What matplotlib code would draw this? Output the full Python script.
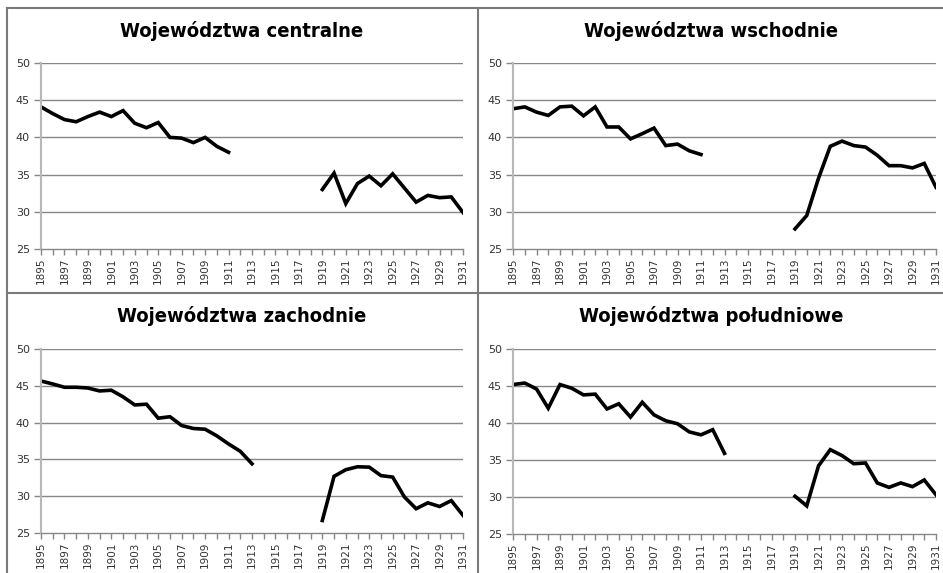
import numpy as np
import matplotlib
matplotlib.use("Agg")
import matplotlib.pyplot as plt
from matplotlib.lines import Line2D

nan = np.nan
years = list(range(1895, 1932))

titles = ["Województwa centralne", "Województwa wschodnie",
          "Województwa zachodnie", "Województwa południowe"]

central = [44.1, 43.2, 42.4, 42.1, 42.8, 43.4, 42.8, 43.6, 41.9, 41.3, 42.0, 40.0, 39.9, 39.3, 40.0, 38.8, 38.0,
           nan, nan, nan, nan, nan, nan, nan,
           33.0, 35.2, 31.1, 33.8, 34.8, 33.5, 35.1, 33.2, 31.3, 32.2, 31.9, 32.0, 29.9]
east = [43.85, 44.1, 43.4, 42.95, 44.1, 44.2, 42.9, 44.1, 41.4, 41.4, 39.8, 40.5, 41.25, 38.9, 39.1, 38.2, 37.7,
        nan, nan, nan, nan, nan, nan, nan,
        27.7, 29.5, 34.5, 38.8, 39.5, 38.9, 38.7, 37.6, 36.2, 36.2, 35.9, 36.5, 33.3]
west = [45.65, 45.25, 44.8, 44.8, 44.7, 44.3, 44.4, 43.5, 42.4, 42.5, 40.6, 40.8, 39.6, 39.2, 39.1, 38.2, 37.1, 36.1, 34.4,
        nan, nan, nan, nan, nan,
        26.7, 32.7, 33.6, 34.0, 33.95, 32.8, 32.6, 29.9, 28.3, 29.1, 28.6, 29.4, 27.4]
south = [45.2, 45.4, 44.6, 42.0, 45.2, 44.7, 43.8, 43.9, 41.9, 42.6, 40.8, 42.8, 41.1, 40.3, 39.9, 38.8, 38.4, 39.1, 35.9,
         nan, nan, nan, nan, nan,
         30.1, 28.8, 34.2, 36.4, 35.6, 34.5, 34.6, 31.9, 31.3, 31.9, 31.4, 32.3, 30.3]

series = [central, east, west, south]
yticks = [25, 30, 35, 40, 45, 50]

W, H = 943, 573
fig = plt.figure(figsize=(W / 100, H / 100), dpi=100)

# axes boxes in pixels: (x0, x1, ytop, ybottom)
boxes = [(41, 463, 63, 249), (513, 936, 63, 249),
         (41, 463, 349, 533), (513, 936, 349, 534)]
title_pos = [(242, 31), (711, 31), (242, 316), (711, 316)]

for i, (vals, (x0, x1, yt, yb)) in enumerate(zip(series, boxes)):
    ax = fig.add_axes([x0 / W, 1 - yb / H, (x1 - x0) / W, (yb - yt) / H])
    ax.plot(years, vals, color="black", lw=2.6, solid_joinstyle="miter")
    ax.set_xlim(1895, 1931)
    ax.set_ylim(25, 50)
    ax.set_yticks(yticks)
    ax.set_yticklabels([str(v) for v in yticks], fontsize=8, color="#333333")
    for v in yticks[1:]:
        ax.axhline(v, color="#878787", lw=1.0, zorder=0)
    ax.set_xticks(years)
    ax.set_xticklabels([str(y) if (y - 1895) % 2 == 0 else "" for y in years],
                       rotation=90, fontsize=7.5, color="#333333")
    for s in ["top", "right"]:
        ax.spines[s].set_visible(False)
    ax.spines["left"].set_color("#b8b8b8")
    ax.spines["left"].set_linewidth(1.5)
    ax.spines["bottom"].set_color("#878787")
    ax.spines["bottom"].set_linewidth(1.0)
    ax.tick_params(axis="x", direction="out", length=4, width=1, color="#878787", pad=2)
    ax.tick_params(axis="y", length=5, width=1, color="#878787", pad=3)
    ax.set_facecolor("none")
    tx, ty = title_pos[i]
    fig.text(tx / W, 1 - ty / H, titles[i], ha="center", va="center",
             fontsize=14.5, fontweight="bold", fontstretch="condensed",
             family=["DejaVu Sans"])

# panel borders
def hline(y, x0, x1):
    fig.add_artist(Line2D([x0 / W, x1 / W], [1 - y / H, 1 - y / H], color="#7a7a7a", lw=1.5))

def vline(x, y0, y1):
    fig.add_artist(Line2D([x / W, x / W], [1 - y0 / H, 1 - y1 / H], color="#7a7a7a", lw=1.5))

hline(8, 7, 943)
hline(293, 7, 943)
vline(7, 8, 573)
vline(478, 8, 573)

fig.savefig("out.png", dpi=100, facecolor="white")
